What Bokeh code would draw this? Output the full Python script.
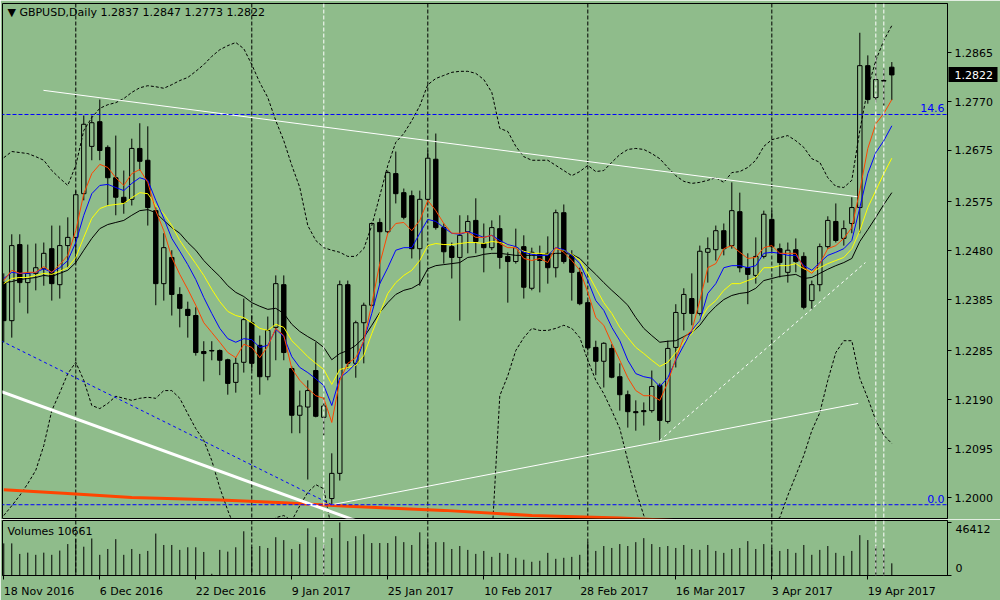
from bokeh.plotting import figure
from bokeh.models import (ColumnDataSource, FixedTicker, Span, LinearAxis,
                          Range1d, PrintfTickFormatter)
from bokeh.layouts import column
from bokeh.embed import file_html
from bokeh.resources import INLINE
from bokeh.core.properties import value

# ---------------- data (GBPUSD daily, 18 Nov 2016 .. 21 Apr 2017) ----------------
opens = [
    1.2418, 1.2344, 1.2492, 1.2418, 1.2436, 1.2445, 1.2484, 1.2414, 1.2490, 1.2506,
    1.2591, 1.2683, 1.2731, 1.2681, 1.2622, 1.2584, 1.2580, 1.2679, 1.2656, 1.2558,
    1.2416, 1.2467, 1.2395, 1.2366, 1.2354, 1.2284, 1.2286, 1.2286, 1.2268, 1.2224,
    1.2263, 1.2340, 1.2296, 1.2235, 1.2331, 1.2414, 1.2251, 1.2160, 1.2176, 1.2247,
    1.2156, 1.1998, 1.2047, 1.2414, 1.2261, 1.2340, 1.2374, 1.2535, 1.2517, 1.2630,
    1.2593, 1.2587, 1.2484, 1.2580, 1.2658, 1.2525, 1.2488, 1.2467, 1.2517, 1.2539,
    1.2494, 1.2486, 1.2523, 1.2469, 1.2459, 1.2488, 1.2407, 1.2473, 1.2475, 1.2447,
    1.2554, 1.2471, 1.2438, 1.2379, 1.2292, 1.2265, 1.2290, 1.2235, 1.2200, 1.2167,
    1.2169, 1.2169, 1.2218, 1.2148, 1.2292, 1.2358, 1.2387, 1.2358, 1.2477, 1.2482,
    1.2519, 1.2490, 1.2556, 1.2447, 1.2432, 1.2469, 1.2541, 1.2484, 1.2438, 1.2482,
    1.2469, 1.2383, 1.2414, 1.2488, 1.2537, 1.2504, 1.2533, 1.2564, 1.2840, 1.2778,
    1.2811, 1.2837]
highs = [
    1.2436, 1.2512, 1.2512, 1.2492, 1.2494, 1.2496, 1.2529, 1.2529, 1.2545, 1.2597,
    1.2743, 1.2743, 1.2774, 1.2685, 1.2704, 1.2636, 1.2698, 1.2728, 1.2722, 1.2564,
    1.2514, 1.2481, 1.2409, 1.2381, 1.2370, 1.2304, 1.2304, 1.2288, 1.2270, 1.2272,
    1.2387, 1.2354, 1.2315, 1.2352, 1.2432, 1.2432, 1.2255, 1.2208, 1.2228, 1.2302,
    1.2195, 1.2086, 1.2422, 1.2422, 1.2344, 1.2379, 1.2535, 1.2543, 1.2636, 1.2673,
    1.2601, 1.2597, 1.2597, 1.2675, 1.2708, 1.2533, 1.2496, 1.2549, 1.2549, 1.2582,
    1.2533, 1.2539, 1.2549, 1.2477, 1.2523, 1.2510, 1.2486, 1.2490, 1.2508, 1.2560,
    1.2570, 1.2481, 1.2447, 1.2383, 1.2305, 1.2302, 1.2298, 1.2261, 1.2208, 1.2189,
    1.2185, 1.2247, 1.2222, 1.2305, 1.2376, 1.2407, 1.2436, 1.2490, 1.2506, 1.2529,
    1.2533, 1.2613, 1.2593, 1.2475, 1.2506, 1.2558, 1.2558, 1.2494, 1.2496, 1.2504,
    1.2477, 1.2422, 1.2494, 1.2547, 1.2572, 1.2539, 1.2584, 1.2904, 1.2860, 1.2860,
    1.2834, 1.2847]
lows = [
    1.2302, 1.2311, 1.2379, 1.2358, 1.2403, 1.2412, 1.2383, 1.2387, 1.2447, 1.2455,
    1.2578, 1.2656, 1.2656, 1.2568, 1.2549, 1.2552, 1.2568, 1.2636, 1.2529, 1.2374,
    1.2383, 1.2354, 1.2331, 1.2311, 1.2276, 1.2226, 1.2267, 1.2238, 1.2200, 1.2204,
    1.2243, 1.2247, 1.2200, 1.2228, 1.2267, 1.2267, 1.2125, 1.2125, 1.2035, 1.2156,
    1.2121, 1.1985, 1.2033, 1.2251, 1.2233, 1.2261, 1.2372, 1.2416, 1.2514, 1.2572,
    1.2541, 1.2465, 1.2412, 1.2576, 1.2521, 1.2455, 1.2426, 1.2344, 1.2475, 1.2475,
    1.2438, 1.2481, 1.2445, 1.2379, 1.2455, 1.2387, 1.2403, 1.2399, 1.2416, 1.2428,
    1.2455, 1.2383, 1.2374, 1.2286, 1.2238, 1.2214, 1.2232, 1.2169, 1.2136, 1.2130,
    1.2140, 1.2165, 1.2111, 1.2144, 1.2253, 1.2325, 1.2335, 1.2354, 1.2418, 1.2461,
    1.2471, 1.2484, 1.2438, 1.2376, 1.2416, 1.2465, 1.2481, 1.2428, 1.2418, 1.2438,
    1.2366, 1.2366, 1.2401, 1.2484, 1.2496, 1.2490, 1.2514, 1.2514, 1.2766, 1.2768,
    1.2762, 1.2773]
closes = [
    1.2344, 1.2490, 1.2418, 1.2436, 1.2447, 1.2475, 1.2416, 1.2490, 1.2506, 1.2589,
    1.2726, 1.2729, 1.2675, 1.2622, 1.2584, 1.2574, 1.2679, 1.2654, 1.2564, 1.2416,
    1.2486, 1.2395, 1.2368, 1.2354, 1.2282, 1.2280, 1.2285, 1.2267, 1.2222, 1.2261,
    1.2346, 1.2261, 1.2235, 1.2325, 1.2416, 1.2282, 1.2160, 1.2178, 1.2208, 1.2158,
    1.2178, 1.2047, 1.2414, 1.2261, 1.2340, 1.2374, 1.2533, 1.2517, 1.2632, 1.2591,
    1.2545, 1.2484, 1.2580, 1.2660, 1.2525, 1.2478, 1.2467, 1.2510, 1.2537, 1.2498,
    1.2486, 1.2525, 1.2467, 1.2459, 1.2486, 1.2409, 1.2477, 1.2461, 1.2447, 1.2554,
    1.2459, 1.2438, 1.2377, 1.2291, 1.2265, 1.2300, 1.2234, 1.2200, 1.2167, 1.2165,
    1.2167, 1.2216, 1.2150, 1.2290, 1.2360, 1.2395, 1.2358, 1.2479, 1.2484, 1.2519,
    1.2484, 1.2558, 1.2447, 1.2434, 1.2469, 1.2551, 1.2488, 1.2457, 1.2481, 1.2459,
    1.2370, 1.2414, 1.2488, 1.2539, 1.2500, 1.2523, 1.2564, 1.2840, 1.2774, 1.2813,
    1.2810, 1.2822]
volumes = [
    28100, 28100, 18900, 20000, 18100, 20000, 18100, 21800, 27500, 31800,
    25200, 32400, 18100, 23200, 31800, 18100, 23200, 18900, 21500, 36700,
    26700, 26700, 22400, 24700, 24700, 20600, 1500, 22400, 20900, 24700,
    38700, 24900, 25800, 24100, 33500, 31000, 23200, 27500, 41300, 33500,
    26700, 32700, 46412, 30100, 34400, 36100, 28400, 28400, 28400, 34400,
    29200, 26700, 37800, 29200, 29200, 29200, 23200, 25800, 22400, 18900,
    21500, 16300, 19800, 18900, 15500, 13800, 12000, 12900, 19800, 14600,
    15500, 16300, 18100, 29200, 21500, 25800, 24100, 27500, 25800, 29200,
    32700, 27500, 24900, 25800, 24100, 26700, 23200, 22400, 26700, 21500,
    19800, 23200, 24100, 30100, 23200, 27500, 24100, 21500, 23200, 19800,
    26700, 18100, 22400, 25800, 19800, 17200, 21500, 35300, 31000, 25800,
    24100, 10661]

ma_red = [
    1.2422, 1.2442, 1.2436, 1.2438, 1.2438, 1.2449, 1.2438, 1.2453, 1.2471, 1.2519,
    1.2591, 1.2630, 1.2648, 1.2642, 1.2622, 1.2607, 1.2630, 1.2638, 1.2613, 1.2558,
    1.2519, 1.2467, 1.2434, 1.2405, 1.2374, 1.2340, 1.2321, 1.2302, 1.2282, 1.2272,
    1.2298, 1.2292, 1.2272, 1.2294, 1.2329, 1.2315, 1.2251, 1.2228, 1.2212, 1.2198,
    1.2193, 1.2146, 1.2228, 1.2261, 1.2272, 1.2305, 1.2377, 1.2455, 1.2514, 1.2533,
    1.2535, 1.2519, 1.2539, 1.2578, 1.2558, 1.2533, 1.2514, 1.2514, 1.2516, 1.2506,
    1.2506, 1.2510, 1.2494, 1.2486, 1.2486, 1.2465, 1.2461, 1.2465, 1.2457, 1.2486,
    1.2477, 1.2461, 1.2442, 1.2399, 1.2350, 1.2335, 1.2300, 1.2267, 1.2233, 1.2208,
    1.2198, 1.2198, 1.2189, 1.2224, 1.2270, 1.2311, 1.2325, 1.2383, 1.2447, 1.2455,
    1.2484, 1.2490, 1.2477, 1.2465, 1.2467, 1.2486, 1.2490, 1.2475, 1.2475, 1.2475,
    1.2447, 1.2436, 1.2455, 1.2484, 1.2490, 1.2504, 1.2525, 1.2597, 1.2679, 1.2727,
    1.2747, 1.2774]
ma_blue = [
    1.2426, 1.2438, 1.2436, 1.2436, 1.2438, 1.2445, 1.2438, 1.2447, 1.2461, 1.2496,
    1.2549, 1.2591, 1.2607, 1.2609, 1.2603, 1.2597, 1.2611, 1.2622, 1.2617, 1.2578,
    1.2543, 1.2504, 1.2479, 1.2453, 1.2424, 1.2389, 1.2358, 1.2329, 1.2309, 1.2302,
    1.2309, 1.2307, 1.2292, 1.2296, 1.2327, 1.2313, 1.2274, 1.2253, 1.2243, 1.2231,
    1.2218, 1.2179, 1.2233, 1.2245, 1.2261, 1.2305, 1.2358, 1.2416, 1.2447, 1.2481,
    1.2486, 1.2486, 1.2514, 1.2541, 1.2537, 1.2525, 1.2514, 1.2512, 1.2517, 1.2512,
    1.2506, 1.2510, 1.2500, 1.2492, 1.2488, 1.2477, 1.2473, 1.2471, 1.2471, 1.2486,
    1.2482, 1.2471, 1.2455, 1.2422, 1.2383, 1.2364, 1.2331, 1.2305, 1.2267, 1.2241,
    1.2235, 1.2232, 1.2216, 1.2233, 1.2267, 1.2296, 1.2325, 1.2344, 1.2397, 1.2416,
    1.2447, 1.2451, 1.2451, 1.2447, 1.2451, 1.2475, 1.2477, 1.2475, 1.2471, 1.2471,
    1.2451, 1.2442, 1.2457, 1.2471, 1.2477, 1.2484, 1.2500, 1.2564, 1.2630, 1.2671,
    1.2694, 1.2723]
ma_yellow = [
    1.2416, 1.2426, 1.2428, 1.2428, 1.2432, 1.2436, 1.2434, 1.2440, 1.2447, 1.2467,
    1.2506, 1.2543, 1.2562, 1.2568, 1.2570, 1.2572, 1.2583, 1.2593, 1.2591, 1.2568,
    1.2552, 1.2529, 1.2500, 1.2477, 1.2455, 1.2432, 1.2405, 1.2381, 1.2362, 1.2354,
    1.2350, 1.2340, 1.2329, 1.2325, 1.2337, 1.2331, 1.2305, 1.2290, 1.2274, 1.2261,
    1.2249, 1.2220, 1.2249, 1.2253, 1.2257, 1.2276, 1.2319, 1.2358, 1.2397, 1.2418,
    1.2432, 1.2442, 1.2461, 1.2490, 1.2494, 1.2492, 1.2492, 1.2494, 1.2496, 1.2496,
    1.2494, 1.2498, 1.2496, 1.2492, 1.2486, 1.2479, 1.2475, 1.2475, 1.2473, 1.2484,
    1.2481, 1.2473, 1.2461, 1.2436, 1.2407, 1.2379, 1.2358, 1.2331, 1.2311, 1.2292,
    1.2280, 1.2267, 1.2255, 1.2263, 1.2282, 1.2302, 1.2319, 1.2344, 1.2370, 1.2383,
    1.2403, 1.2416, 1.2416, 1.2422, 1.2428, 1.2447, 1.2447, 1.2451, 1.2451, 1.2455,
    1.2445, 1.2438, 1.2447, 1.2455, 1.2461, 1.2467, 1.2484, 1.2519, 1.2564, 1.2597,
    1.2630, 1.2660]
ma_black = [
    1.2418, 1.2420, 1.2424, 1.2426, 1.2428, 1.2432, 1.2430, 1.2436, 1.2442, 1.2457,
    1.2481, 1.2504, 1.2523, 1.2531, 1.2535, 1.2539, 1.2549, 1.2558, 1.2560, 1.2554,
    1.2539, 1.2525, 1.2514, 1.2496, 1.2481, 1.2461, 1.2445, 1.2430, 1.2412, 1.2399,
    1.2391, 1.2379, 1.2372, 1.2366, 1.2368, 1.2358, 1.2337, 1.2323, 1.2313, 1.2304,
    1.2292, 1.2268, 1.2280, 1.2286, 1.2296, 1.2311, 1.2335, 1.2360, 1.2379, 1.2395,
    1.2403, 1.2407, 1.2416, 1.2445, 1.2451, 1.2453, 1.2455, 1.2457, 1.2467, 1.2469,
    1.2473, 1.2475, 1.2475, 1.2473, 1.2471, 1.2471, 1.2471, 1.2471, 1.2473, 1.2475,
    1.2475, 1.2473, 1.2465, 1.2449, 1.2434, 1.2418, 1.2403, 1.2389, 1.2374, 1.2350,
    1.2329, 1.2315, 1.2302, 1.2304, 1.2305, 1.2313, 1.2321, 1.2335, 1.2356, 1.2372,
    1.2385, 1.2393, 1.2397, 1.2399, 1.2407, 1.2422, 1.2426, 1.2430, 1.2432, 1.2434,
    1.2426, 1.2428, 1.2436, 1.2444, 1.2451, 1.2457, 1.2465, 1.2498, 1.2521, 1.2545,
    1.2570, 1.2593]
bb_upper = [
    1.2661, 1.2673, 1.2671, 1.2669, 1.2663, 1.2656, 1.2636, 1.2621, 1.2607, 1.2646,
    1.2714, 1.2739, 1.2757, 1.2764, 1.2768, 1.2776, 1.2788, 1.2797, 1.2801, 1.2799,
    1.2796, 1.2803, 1.2811, 1.2817, 1.2829, 1.2842, 1.2858, 1.2871, 1.2879, 1.2885,
    1.2873, 1.2842, 1.2807, 1.2778, 1.2733, 1.2694, 1.2646, 1.2603, 1.2529, 1.2500,
    1.2486, 1.2481, 1.2477, 1.2469, 1.2469, 1.2484, 1.2529, 1.2587, 1.2646, 1.2691,
    1.2708, 1.2733, 1.2762, 1.2803, 1.2815, 1.2821, 1.2827, 1.2829, 1.2829, 1.2825,
    1.2813, 1.2788, 1.2718, 1.2712, 1.2683, 1.2663, 1.2656, 1.2656, 1.2656, 1.2646,
    1.2636, 1.2626, 1.2634, 1.2646, 1.2634, 1.2636, 1.2652, 1.2667, 1.2677, 1.2679,
    1.2677, 1.2669, 1.2659, 1.2642, 1.2626, 1.2615, 1.2611, 1.2613, 1.2617, 1.2622,
    1.2613, 1.2632, 1.2634, 1.2642, 1.2656, 1.2683, 1.2696, 1.2700, 1.2704, 1.2694,
    1.2681, 1.2659, 1.2652, 1.2622, 1.2605, 1.2603, 1.2617, 1.2714, 1.2796, 1.2850,
    1.2889, 1.2918]
bb_lower = [
    1.1965, 1.1984, 1.2004, 1.2027, 1.2053, 1.2101, 1.2169, 1.2204, 1.2241, 1.2263,
    1.2228, 1.2179, 1.2173, 1.2183, 1.2197, 1.2193, 1.2189, 1.2193, 1.2195, 1.2193,
    1.2208, 1.2208, 1.2193, 1.2163, 1.2134, 1.2111, 1.2072, 1.2019, 1.1975, 1.1936,
    1.1907, 1.1893, 1.1901, 1.1936, 1.1961, 1.1965, 1.1955, 1.1984, 1.2010, 1.2025,
    1.2017, 1.1936, 1.1878, 1.1839, 1.1819, 1.1809, 1.1819, 1.1830, 1.1839, 1.1849,
    1.1858, 1.1868, 1.1878, 1.1888, 1.1897, 1.1907, 1.1917, 1.1926, 1.1936, 1.1948,
    1.1961, 1.1917, 1.2198, 1.2237, 1.2286, 1.2311, 1.2329, 1.2325, 1.2325, 1.2329,
    1.2335, 1.2329, 1.2311, 1.2267, 1.2228, 1.2202, 1.2169, 1.2134, 1.2072, 1.2014,
    1.1965, 1.1926, 1.1888, 1.1858, 1.1849, 1.1849, 1.1858, 1.1868, 1.1878, 1.1888,
    1.1897, 1.1907, 1.1917, 1.1926, 1.1936, 1.1946, 1.1953, 1.1961, 1.2004, 1.2043,
    1.2082, 1.2130, 1.2165, 1.2228, 1.2282, 1.2305, 1.2305, 1.2232, 1.2193, 1.2150,
    1.2121, 1.2105]
# long moving average (thick orange), read at sample bars
ma_long_bars = [0, 8, 16, 27, 35, 43, 55, 66, 77, 90, 111]
ma_long_vals = [1.2015, 1.2008, 1.2000, 1.1995, 1.1990, 1.1983, 1.1975, 1.1965, 1.1960, 1.1951, 1.1940]

# drawn objects (bar index, price)
trend_down_x, trend_down_y = [4.96, 106.7], [1.2792, 1.2585]
trend_up_x, trend_up_y = [41.0, 106.8], [1.1986, 1.2183]
trend_dash_x, trend_dash_y = [82.0, 107.7], [1.2111, 1.2457]
fib_diag_x, fib_diag_y = [-1.0, 41.0], [1.2310, 1.1986]
thick_x, thick_y = [-1.0, 50.0], [1.2210, 1.1921]
fib_levels = [1.1986, 1.2745]
fib_texts = ["0.0", "14.6"]
month_seps = [9, 31, 53, 73, 96]
white_vlines = [40, 109, 110]

price_ticks = [1.2000, 1.2095, 1.2190, 1.2285, 1.2385, 1.2480, 1.2575, 1.2675, 1.2770, 1.2865]
date_ticks = [0, 12, 24, 36, 48, 60, 72, 84, 96, 108]
date_labels = ["18 Nov 2016", "6 Dec 2016", "22 Dec 2016", "9 Jan 2017", "25 Jan 2017",
               "10 Feb 2017", "28 Feb 2017", "16 Mar 2017", "3 Apr 2017", "19 Apr 2017"]

# ---------------- styling ----------------
BG = "#8FBC8B"
FONT = "DejaVu Sans"
FS = "11px"
RED = "#FF4500"
BLUE = "#0000FF"

n = len(closes)
idx = list(range(n))
XMIN, XMAX = -0.16, 117.96
x_rng = Range1d(XMIN, XMAX)
PX_PER_BAR = 945.0 / (XMAX - XMIN)

p = figure(width=1000, height=519, x_range=x_rng, y_range=Range1d(1.19592, 1.29609),
           output_backend="svg", toolbar_location=None, tools="",
           x_axis_location=None, y_axis_location="right",
           min_border_left=2, min_border_right=53, min_border_top=3, min_border_bottom=1,
           background_fill_color=BG, border_fill_color=BG,
           outline_line_color="black", outline_line_width=1)
p.xgrid.visible = False
p.ygrid.visible = False
ya = p.yaxis[0]
ya.ticker = FixedTicker(ticks=price_ticks)
ya.formatter = PrintfTickFormatter(format="%.4f")
ya.major_tick_out = 4
ya.major_tick_in = 0
ya.minor_tick_out = 0
ya.minor_tick_in = 0
ya.major_label_standoff = 3
ya.major_label_text_font = FONT
ya.major_label_text_font_size = FS
ya.major_label_text_color = "black"
ya.axis_line_color = "black"

# current price marker on the price scale: a thick black tick (the box) with a white label,
# drawn by a second axis that sits just outside the price axis and reaches back over it
cur_axis = LinearAxis(ticker=FixedTicker(ticks=[closes[-1]]),
                      formatter=PrintfTickFormatter(format="%.4f"),
                      major_tick_out=2, major_tick_in=47,
                      major_tick_line_width=15, major_tick_line_color="black",
                      major_tick_line_cap="butt",
                      minor_tick_out=0, minor_tick_in=0,
                      axis_line_color=None, major_label_standoff=-43,
                      major_label_text_color="white", major_label_text_font=FONT,
                      major_label_text_font_size=FS)
p.add_layout(cur_axis, "right")

# month separators (behind candles)
for b in month_seps:
    p.add_layout(Span(location=b, dimension="height", line_color="black",
                      line_dash="4 2", line_width=1, level="underlay"))

# candles
inc = [c >= o for o, c in zip(opens, closes)]
src = ColumnDataSource(dict(
    x=idx, h=highs, l=lows,
    top=[max(o, c) for o, c in zip(opens, closes)],
    bot=[min(o, c) for o, c in zip(opens, closes)],
    fill=[BG if u else "black" for u in inc]))
p.segment(x0="x", y0="h", x1="x", y1="l", source=src, line_color="black", line_width=1)
p.vbar(x="x", width=0.55, top="top", bottom="bot", source=src,
       fill_color="fill", line_color="black", line_width=1)

# bands and averages
p.line(idx, bb_upper, line_color="black", line_dash="3 2", line_width=1)
p.line(idx, bb_lower, line_color="black", line_dash="3 2", line_width=1)
p.line(ma_long_bars, ma_long_vals, line_color=RED, line_width=3)
p.line(idx, ma_black, line_color="black", line_width=1)
p.line(idx, ma_yellow, line_color="#FFFF00", line_width=1)
p.line(idx, ma_blue, line_color=BLUE, line_width=1)
p.line(idx, ma_red, line_color=RED, line_width=1)

# objects
p.line(thick_x, thick_y, line_color="white", line_width=3)
p.line(fib_diag_x, fib_diag_y, line_color=BLUE, line_dash="3 3", line_width=1)
p.line(trend_down_x, trend_down_y, line_color="white", line_width=1)
p.line(trend_up_x, trend_up_y, line_color="white", line_width=1)
p.line(trend_dash_x, trend_dash_y, line_color="white", line_dash="3 3", line_width=1)
p.segment(x0=[XMIN - 1] * 2, x1=[XMAX + 1] * 2, y0=fib_levels, y1=fib_levels,
          line_color=BLUE, line_dash="4 2", line_width=1)
p.text(x=[117.6, 117.6], y=fib_levels, text=fib_texts, text_align="right",
       text_baseline="bottom", y_offset=-2, text_color=BLUE,
       text_font=value(FONT), text_font_size=FS)

for b in white_vlines:
    p.add_layout(Span(location=b, dimension="height", line_color="white",
                      line_dash="4 2", line_width=1))

p.text(x=[0.46], y=[1.2943],
       text=["\u25BC GBPUSD,Daily  %.4f %.4f %.4f %.4f" % (opens[-1], highs[-1], lows[-1], closes[-1])],
       text_align="left", text_baseline="middle", text_color="black",
       text_font=value(FONT), text_font_size=FS)

# ---------------- volume panel ----------------
pv = figure(width=1000, height=81, x_range=x_rng, y_range=Range1d(0, 48130),
            output_backend="svg", toolbar_location=None, tools="",
            x_axis_location="below", y_axis_location="right",
            min_border_left=2, min_border_right=53, min_border_top=1, min_border_bottom=24,
            background_fill_color=BG, border_fill_color=BG,
            outline_line_color="black", outline_line_width=1)
pv.xgrid.visible = False
pv.ygrid.visible = False
for b in month_seps:
    pv.add_layout(Span(location=b, dimension="height", line_color="black",
                       line_dash="4 2", line_width=1, level="underlay"))
vsrc = ColumnDataSource(dict(x=idx, v=volumes, z=[0] * n))
pv.segment(x0="x", y0="z", x1="x", y1="v", source=vsrc, line_color="black", line_width=1)
for b in white_vlines:
    pv.add_layout(Span(location=b, dimension="height", line_color="white",
                       line_dash="4 2", line_width=1))

# volume scale: tick marks (minor) at 0 and max, labels set just inside them
vol_lab_pos = [6900, 40400]
vy = pv.yaxis[0]
vy.ticker = FixedTicker(ticks=vol_lab_pos, minor_ticks=[0, max(volumes)])
vy.major_label_overrides = {vol_lab_pos[0]: "0", vol_lab_pos[1]: "%d" % max(volumes)}
vy.major_tick_out = 0
vy.major_tick_in = 0
vy.minor_tick_out = 4
vy.minor_tick_in = 0
vy.minor_tick_line_color = "black"
vy.major_label_standoff = 4
vy.major_label_text_font = FONT
vy.major_label_text_font_size = FS
vy.major_label_text_color = "black"
vy.axis_line_color = "black"

# time scale: tick marks (minor) at the dates, labels starting at each tick (MT4 style)
char_w = {" ": 3.5, "N": 8.2, "o": 6.7, "v": 6.5, "D": 8.5, "e": 6.8, "c": 6.05, "J": 3.2,
          "a": 6.7, "n": 7.0, "F": 6.3, "b": 7.0, "M": 9.5, "r": 4.5, "A": 7.5, "p": 7.0}
lab_pos = []
for t, s in zip(date_ticks, date_labels):
    w = sum(char_w.get(ch, 7.0) for ch in s)
    lab_pos.append(round(t + (w / 2.0) / PX_PER_BAR, 2))
vx = pv.xaxis[0]
vx.ticker = FixedTicker(ticks=lab_pos, minor_ticks=date_ticks)
vx.major_label_overrides = {pos: s for pos, s in zip(lab_pos, date_labels)}
vx.major_tick_out = 0
vx.major_tick_in = 0
vx.minor_tick_out = 4
vx.minor_tick_in = 0
vx.minor_tick_line_color = "black"
vx.major_label_standoff = 5
vx.major_label_text_font = FONT
vx.major_label_text_font_size = FS
vx.major_label_text_color = "black"
vx.axis_line_color = "black"

pv.text(x=[0.46], y=[38700], text=["Volumes %d" % volumes[-1]], text_align="left",
        text_baseline="middle", text_color="black", text_font=value(FONT), text_font_size=FS)

layout = column(p, pv, spacing=0)
open("out.html", "w").write(file_html(layout, INLINE))
